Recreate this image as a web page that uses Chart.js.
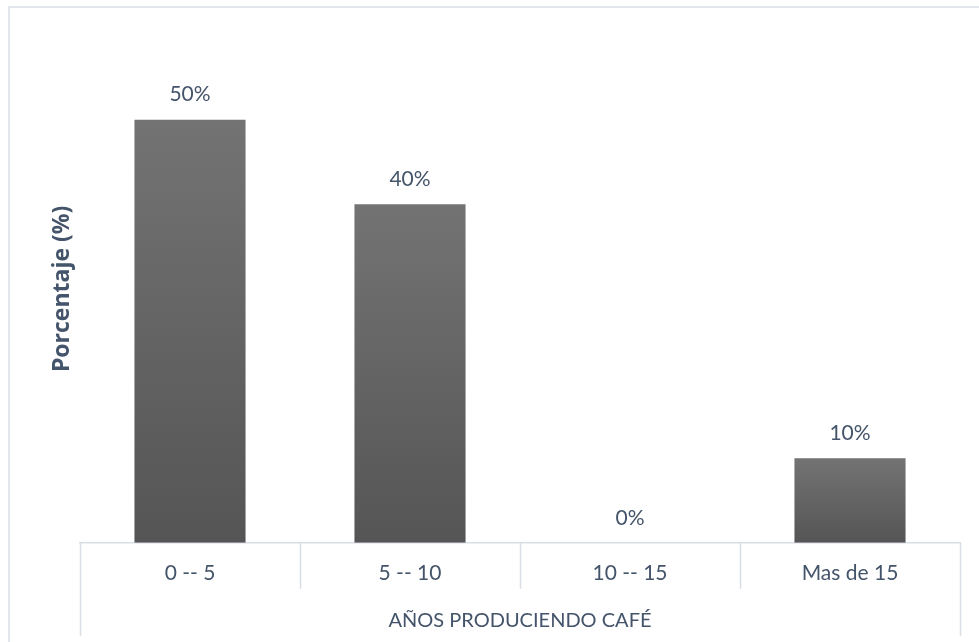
<!DOCTYPE html>
<html>
<head>
<meta charset="utf-8">
<script src="https://cdn.jsdelivr.net/npm/chart.js@4"></script>
<style>
  html, body { margin: 0; padding: 0; background: #fff; overflow: hidden; }
  #wrap { position: absolute; left: 0; top: 0; width: 979px; height: 642px; }
  #frame { position: absolute; left: 8px; top: 6px; width: 1000px; height: 700px;
           border: 2px solid #e2e6eb; box-sizing: border-box; pointer-events: none; }
</style>
</head>
<body>
<div id="wrap"><canvas id="chart" width="979" height="642"></canvas></div>
<div id="frame"></div>
<script>
// datos del grafico
const categorias = ['0 -- 5', '5 -- 10', '10 -- 15', 'Mas de 15'];
const porcentajes = [50, 40, 0, 10];
const tituloX = 'AÑOS PRODUCIENDO CAFÉ';
const tituloY = 'Porcentaje (%)';

const colorTexto = '#44546A';
const colorLineas = '#d9dee5';
const fuente = 'Lato, "Open Sans", sans-serif';

// degradado de cada barra (arriba claro, abajo oscuro)
function colorBarra(ctx) {
  const chart = ctx.chart;
  const y = chart.scales.y;
  if (!chart.chartArea || !y) return '#646464';
  const v = ctx.raw || 0;
  const top = y.getPixelForValue(v);
  const bottom = y.getPixelForValue(0);
  if (bottom - top < 1) return '#646464';
  const g = chart.ctx.createLinearGradient(0, top, 0, bottom);
  g.addColorStop(0, '#737373');
  g.addColorStop(1, '#555555');
  return g;
}

// etiquetas de valor encima de las barras
const etiquetasValor = {
  id: 'etiquetasValor',
  afterDatasetsDraw(chart) {
    const ctx = chart.ctx;
    const meta = chart.getDatasetMeta(0);
    ctx.save();
    ctx.font = '21px ' + fuente;
    ctx.fillStyle = colorTexto;
    ctx.textAlign = 'center';
    ctx.textBaseline = 'middle';
    meta.data.forEach(function(bar, i) {
      ctx.fillText(porcentajes[i] + '%', bar.x, bar.y - 25);
    });
    ctx.restore();
  }
};

// lineas de la tabla bajo el eje X
const cajasEje = {
  id: 'cajasEje',
  afterDraw(chart) {
    const ctx = chart.ctx;
    const x = chart.scales.x;
    const base = chart.chartArea.bottom;
    ctx.save();
    ctx.strokeStyle = colorLineas;
    ctx.lineWidth = 1.5;
    for (let i = 0; i <= categorias.length; i++) {
      const px = Math.round(x.getPixelForValue(i - 0.5)) + 0.5;
      const largo = (i === 0 || i === categorias.length) ? 93 : 46;
      ctx.beginPath();
      ctx.moveTo(px, base);
      ctx.lineTo(px, base + largo);
      ctx.stroke();
    }
    ctx.restore();
  }
};

new Chart(document.getElementById('chart').getContext('2d'), {
  type: 'bar',
  data: {
    labels: categorias,
    datasets: [{
      data: porcentajes,
      backgroundColor: colorBarra,
      borderWidth: 0,
      categoryPercentage: 1,
      barPercentage: 0.505
    }]
  },
  plugins: [etiquetasValor, cajasEje],
  options: {
    responsive: false,
    animation: false,
    layout: { padding: { left: 44.4, right: 19, top: 35, bottom: 5 } },
    plugins: {
      legend: { display: false },
      tooltip: { enabled: false }
    },
    scales: {
      x: {
        offset: true,
        grid: { display: false, drawTicks: false },
        border: { display: true, color: colorLineas, width: 1.5 },
        ticks: { color: colorTexto, font: { family: fuente, size: 21 }, padding: 18 },
        title: {
          display: true,
          text: tituloX,
          color: colorTexto,
          font: { family: fuente, size: 20 },
          padding: { top: 5, bottom: 4 }
        }
      },
      y: {
        min: 0,
        max: 60,
        grid: { display: false, drawTicks: false },
        border: { display: false },
        ticks: { display: false },
        title: {
          display: true,
          text: tituloY,
          color: colorTexto,
          font: { family: '"Open Sans", sans-serif', size: 23, weight: 'bold' },
          padding: 4
        }
      }
    }
  }
});
</script>
</body>
</html>
